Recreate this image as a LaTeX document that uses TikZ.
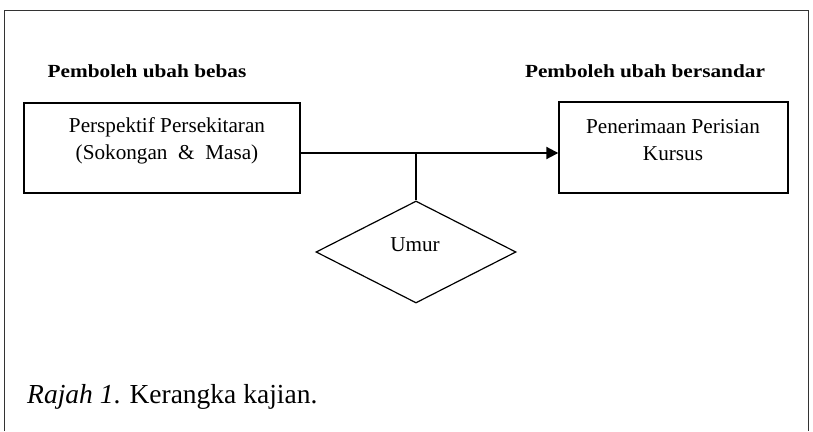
\documentclass[tikz,border=0pt]{standalone}
\usepackage{fontspec}
\setmainfont{Liberation Serif}
\newfontfamily\headfont[FakeStretch=1.15]{Liberation Serif}
\usetikzlibrary{arrows.meta,shapes.geometric}
\begin{document}
\begin{tikzpicture}[x=1pt,y=-1pt,
  boxstyle/.style={draw,line width=1.4pt,rectangle,inner sep=0pt},
  boxtext/.style={font=\fontsize{21.2}{27}\selectfont,align=center,inner sep=0pt},
  headstyle/.style={font=\headfont\fontsize{18.5}{20}\selectfont\bfseries,inner sep=0pt},
  arrowstyle/.style={line width=2pt,-{Triangle[length=12pt,width=12pt]}},
  linkstyle/.style={line width=1.3pt}]
\useasboundingbox (0,0) rectangle (813,431);
\draw[line width=0.9pt,black!80] (4,431) -- (4,10) -- (808,10) -- (808,431);
\node[headstyle] (h1) at (147,71) {Pemboleh ubah bebas};
\node[headstyle] (h2) at (645,71) {Pemboleh ubah bersandar};
\node[boxstyle,minimum width=276pt,minimum height=90pt] (lbox) at (162,148) {};
\node[boxtext] (ltext) at (167,141) {Perspektif Persekitaran\\(Sokongan \ \& \ Masa)};
\node[boxstyle,minimum width=229pt,minimum height=91pt] (rbox) at (673.5,147.5) {};
\node[boxtext] (rtext) at (673,140) {Penerimaan Perisian\\Kursus};
\node[draw,diamond,line width=1.2pt,minimum width=200pt,minimum height=102pt,inner sep=0pt] (dia) at (416,252) {};
\node[boxtext] (dtext) at (415,245) {Umur};
\coordinate (j) at (416,153);
\draw[arrowstyle] (lbox.east |- j) -- (rbox.west |- j);
\draw[linkstyle] (dia.north) -- (j);
\node[font=\fontsize{27.5}{30}\selectfont,anchor=west,inner sep=0pt] (cap) at (27,397) {\textit{Rajah 1}. Kerangka kajian.};
\end{tikzpicture}
\end{document}
